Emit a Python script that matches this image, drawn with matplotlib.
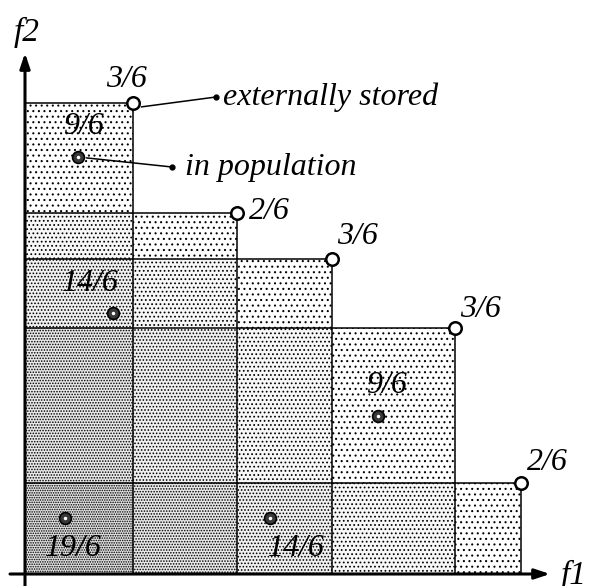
import matplotlib
matplotlib.use("Agg")
import matplotlib.pyplot as plt
from matplotlib.patches import Rectangle
import numpy as np

# ---- data ----
ext_f1 = [2.16, 4.24, 6.14, 8.60, 9.92]
ext_f2 = [9.42, 7.22, 6.30, 4.92, 1.82]
ext_labels = ["3/6", "2/6", "3/6", "3/6", "2/6"]

pop_f1 = [1.06, 1.76, 7.06, 0.80, 4.90]
pop_f2 = [8.34, 5.22, 3.16, 1.12, 1.12]
pop_labels = ["9/6", "14/6", "9/6", "19/6", "14/6"]

axis_labels = ["f1", "f2"]
legend_texts = ["externally stored", "in population"]

# ---- style ----
plt.rcParams['hatch.linewidth'] = 0.75
plt.rcParams['hatch.color'] = 'black'
FONT = dict(family=['Liberation Serif', 'DejaVu Serif'], style='italic')

fig = plt.figure(figsize=(5.93, 5.86), dpi=100)
ax = fig.add_axes([0, 0, 1, 1])
ax.set_xlim(-0.5, 11.36)
ax.set_ylim(-0.24, 11.48)
ax.axis('off')

# shaded cells: dot density by number of covering rectangles
xs = [0.0] + sorted(ext_f1)
ys = [0.0] + sorted(ext_f2)
for i in range(len(xs) - 1):
    for j in range(len(ys) - 1):
        x0, x1 = xs[i], xs[i + 1]
        y0, y1 = ys[j], ys[j + 1]
        c = sum(1 for a, b in zip(ext_f1, ext_f2) if a >= x1 and b >= y1)
        if c == 0:
            continue
        g = 1.0 - 0.03 * (c - 1)
        ax.add_patch(Rectangle((x0, y0), x1 - x0, y1 - y0, facecolor=(g, g, g),
                               edgecolor='black', linewidth=0,
                               hatch='.' * (c + 2), zorder=1))

# rectangle edges
for a, b in zip(ext_f1, ext_f2):
    ax.plot([0, a], [b, b], color='black', lw=1.1, zorder=2)
    ax.plot([a, a], [0, b], color='black', lw=1.1, zorder=2)

# axes with arrows
ax.annotate('', xy=(10.5, 0), xytext=(-0.3, 0),
            arrowprops=dict(arrowstyle='-|>,head_length=0.9,head_width=0.3',
                            color='black', lw=2.2, shrinkA=0, shrinkB=0), zorder=3)
ax.annotate('', xy=(0, 10.42), xytext=(0, -0.24),
            arrowprops=dict(arrowstyle='-|>,head_length=0.9,head_width=0.3',
                            color='black', lw=2.2, shrinkA=0, shrinkB=0), zorder=3)
ax.text(10.98, -0.02, axis_labels[0], fontsize=24, ha='center', va='center', **FONT)
ax.text(0.04, 10.84, axis_labels[1], fontsize=24, ha='center', va='center', **FONT)

# points
ax.plot(ext_f1, ext_f2, 'o', ms=9, mfc='white', mec='black', mew=1.8, zorder=5)
ax.plot(pop_f1, pop_f2, 'o', ms=8.5, mfc='#383838', mec='black', mew=1.2, zorder=5)
ax.plot(pop_f1, pop_f2, '.', ms=3, color='white', zorder=6)

# strength / fitness labels
ext_off = [(-5, 17), (23, 1), (18, 16), (18, 13), (19, 15)]
for a, b, t, (dx, dy) in zip(ext_f1, ext_f2, ext_labels, ext_off):
    ax.annotate(t, (a, b), xytext=(dx, dy), textcoords='offset points',
                ha='center', va='center', fontsize=23, **FONT)
pop_off = [(4, 22), (-16, 21), (6, 22), (6, -22), (19, -22)]
for a, b, t, (dx, dy) in zip(pop_f1, pop_f2, pop_labels, pop_off):
    ax.annotate(t, (a, b), xytext=(dx, dy), textcoords='offset points',
                ha='center', va='center', fontsize=23, **FONT)

# legend callouts
ax.annotate('', xy=(3.82, 9.54), xytext=(ext_f1[0], ext_f2[0] - 0.1),
            arrowprops=dict(arrowstyle='-', color='black', lw=1.1,
                            shrinkA=6, shrinkB=0))
ax.plot([3.82], [9.54], 'o', ms=3.5, color='black')
ax.text(3.96, 9.54, legend_texts[0], fontsize=23, ha='left', va='center', **FONT)

ax.annotate('', xy=(2.94, 8.14), xytext=(pop_f1[0], pop_f2[0]),
            arrowprops=dict(arrowstyle='-', color='black', lw=1.1,
                            shrinkA=6, shrinkB=0))
ax.plot([2.94], [8.14], 'o', ms=3.5, color='black')
ax.text(3.2, 8.14, legend_texts[1], fontsize=23, ha='left', va='center', **FONT)

fig.savefig('out.png', dpi=100, facecolor='white')
